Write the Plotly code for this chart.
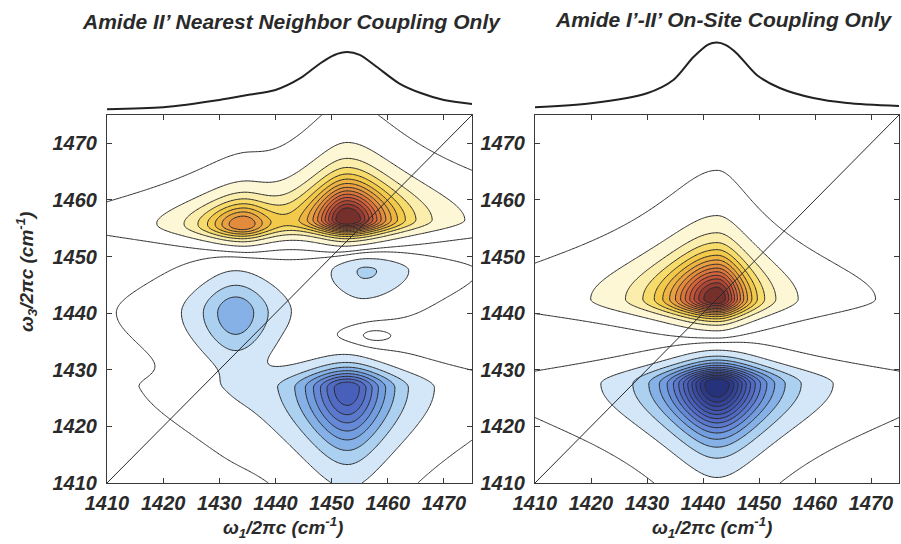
import numpy as np
import plotly.graph_objects as go

# ---------------- data ----------------
ticks = [1410, 1420, 1430, 1440, 1450, 1460, 1470]
axis_range = [1410, 1475]
diag = [1410, 1475]

# 1D absorption spectra shown above each 2D panel
left_sp_w1 = [1410, 1420, 1430, 1435, 1440, 1444.5, 1448, 1450.5, 1452.8, 1455, 1458, 1462, 1466, 1470, 1475]
left_sp = [0.03, 0.063, 0.186, 0.27, 0.356, 0.56, 0.81, 0.95, 1.0, 0.95, 0.75, 0.47, 0.30, 0.186, 0.12]
right_sp_w1 = [1410, 1420, 1430, 1434.7, 1438.3, 1441, 1442.5, 1444, 1446, 1449.6, 1453.7, 1459.7, 1465.7, 1475]
right_sp = [0.063, 0.13, 0.30, 0.525, 0.915, 1.13, 1.16, 1.12, 0.98, 0.61, 0.39, 0.22, 0.136, 0.085]

# 2D peaks (amplitude, centres, half-widths below/above centre)
L_amp = [1.00, 0.52, -0.62, -0.265, -0.152, 0.045]
L_w1 = [1452.8, 1434.0, 1452.8, 1432.9, 1456.0, 1457.0]
L_w3 = [1456.5, 1455.5, 1426.8, 1440.0, 1447.6, 1436.0]
L_g1lo = [6.5, 7.3, 8.0, 7.2, 6.6, 6.0]
L_g1hi = [7.9, 6.0, 7.4, 7.2, 8.6, 6.0]
L_g3lo = [3.6, 3.6, 15.0, 12.0, 7.6, 3.5]
L_g3hi = [9.9, 6.3, 4.9, 9.0, 4.0, 3.5]

R_amp = [1.00, -1.00]
R_w1 = [1442.5, 1442.5]
R_w3 = [1442.5, 1427.5]
R_g1lo = [8.7, 8.0]
R_g1hi = [5.6, 8.0]
R_g3lo = [4.36, 12.0]
R_g3hi = [10.7, 4.6]

P_W1 = 1.3   # line-shape exponent along omega_1
P_W3 = 2.5   # line-shape exponent along omega_3

# contour levels
fill_step = 0.07
fill_top = 0.91
faint_level = 0.014

pos_colors = ["#fdf7d6", "#fbeeac", "#f7dc6c", "#f3c94a", "#eeb441", "#e9a040",
              "#e38b3d", "#dc773c", "#d2653b", "#c45539", "#ad4736", "#933b32", "#76302c"]
neg_colors = ["#d3e7f8", "#acd0f0", "#86b1e6", "#729ddf", "#6589d6", "#5a79cd",
              "#516bc4", "#4860ba", "#4156ae", "#3a4ca2", "#344396", "#2d3a8a", "#27327d"]

# ---------------- build fields ----------------
grid = np.arange(axis_range[0], axis_range[1] + 0.001, 0.25)
W1, W3 = np.meshgrid(grid, grid)


def shape(d, glo, ghi, p):
    g = np.where(d < 0, glo, ghi)
    return (1.0 + (d / g) ** 2) ** (-p)


def field(amp, c1, c3, g1lo, g1hi, g3lo, g3hi):
    z = np.zeros_like(W1)
    for k in range(len(amp)):
        z += amp[k] * shape(W1 - c1[k], g1lo[k], g1hi[k], P_W1) * shape(W3 - c3[k], g3lo[k], g3hi[k], P_W3)
    return z


ZL = field(L_amp, L_w1, L_w3, L_g1lo, L_g1hi, L_g3lo, L_g3hi)
ZR = field(R_amp, R_w1, R_w3, R_g1lo, R_g1hi, R_g3lo, R_g3hi)

n = len(pos_colors)
CLEAR = "rgba(255,255,255,0)"
pos_scale = [[0.0, CLEAR]] + [[(k + 1) / n, pos_colors[k]] for k in range(n)]
neg_scale = [[0.0, CLEAR]] + [[(k + 1) / n, neg_colors[k]] for k in range(n)]

LINE = "#2a2a2a"

fig = go.Figure()


def add_panel(z, xa, ya):
    # negative part drawn as depth below zero (so the empty band stays transparent)
    for zz, scale in ((-z, neg_scale), (z, pos_scale)):
        fig.add_trace(go.Contour(
            x=grid, y=grid, z=zz, xaxis=xa, yaxis=ya, autocontour=False,
            contours=dict(start=fill_step, end=fill_top, size=fill_step, coloring="fill", showlines=True),
            colorscale=scale, line=dict(color=LINE, width=1), showscale=False, hoverinfo="skip"))
    fig.add_trace(go.Contour(
        x=grid, y=grid, z=z, xaxis=xa, yaxis=ya, autocontour=False,
        contours=dict(start=-faint_level, end=faint_level, size=2 * faint_level, coloring="none"),
        line=dict(color=LINE, width=1), showscale=False, hoverinfo="skip"))
    fig.add_trace(go.Scatter(x=diag, y=diag, xaxis=xa, yaxis=ya, mode="lines",
                             line=dict(color=LINE, width=1), hoverinfo="skip", showlegend=False))


add_panel(ZL, "x", "y")
add_panel(ZR, "x2", "y2")

fig.add_trace(go.Scatter(x=left_sp_w1, y=left_sp, xaxis="x3", yaxis="y3", mode="lines",
                         line=dict(color="#222222", width=2, shape="spline", smoothing=0.8),
                         hoverinfo="skip", showlegend=False))
fig.add_trace(go.Scatter(x=right_sp_w1, y=right_sp, xaxis="x4", yaxis="y4", mode="lines",
                         line=dict(color="#222222", width=2, shape="spline", smoothing=0.8),
                         hoverinfo="skip", showlegend=False))

# ---------------- layout ----------------
FW, FH = 901, 544


def fx(px):
    return px / FW


def fy(py):
    return 1 - py / FH


tickfont = dict(family="Liberation Sans", size=20, weight="bold", style="italic", color="#2a2a2a")
main_y = [fy(483), fy(115)]


def xax(dom, anchor):
    return dict(domain=dom, range=axis_range, tickvals=ticks, ticks="inside", ticklen=5,
                tickcolor="#3a3a3a", showline=True, mirror="ticks", linecolor="#3a3a3a", linewidth=1,
                showgrid=False, zeroline=False, tickfont=tickfont, anchor=anchor,
                automargin=False, ticklabelstandoff=2)


def yax(anchor):
    return dict(domain=main_y, range=axis_range, tickvals=ticks, ticks="inside", ticklen=5,
                tickcolor="#3a3a3a", showline=True, mirror="ticks", linecolor="#3a3a3a", linewidth=1,
                showgrid=False, zeroline=False, tickfont=tickfont, anchor=anchor,
                automargin=False, ticklabelstandoff=5)


sp_y = [fy(113), fy(40)]
sp_range = [-0.0339, 1.2034]
hidden = dict(visible=False, showgrid=False, zeroline=False, automargin=False)

fig.update_layout(
    width=FW, height=FH, margin=dict(l=0, r=0, t=0, b=0, autoexpand=False),
    paper_bgcolor="white", plot_bgcolor="white", showlegend=False,
    xaxis=xax([fx(107), fx(472)], "y"),
    yaxis=yax("x"),
    xaxis2=xax([fx(535), fx(899)], "y2"),
    yaxis2=yax("x2"),
    xaxis3=dict(domain=[fx(107), fx(472)], range=axis_range, anchor="y3", **hidden),
    yaxis3=dict(domain=sp_y, range=sp_range, anchor="x3", **hidden),
    xaxis4=dict(domain=[fx(535), fx(899)], range=axis_range, anchor="y4", **hidden),
    yaxis4=dict(domain=sp_y, range=sp_range, anchor="x4", **hidden),
)

titlefont = dict(family="Liberation Sans", size=21, weight="bold", style="italic", color="#2a2a2a")
labfont = dict(family="Liberation Sans", size=19, weight="bold", style="italic", color="#2a2a2a")
ann = [
    dict(text="Amide II’ Nearest Neighbor Coupling Only", x=fx(291), y=fy(22), font=titlefont),
    dict(text="Amide I’-II’ On-Site Coupling Only", x=fx(724), y=fy(20), font=titlefont),
    dict(text="ω<sub>1</sub>/2πc (cm<sup>-1</sup>)", x=fx(283), y=fy(527), font=labfont),
    dict(text="ω<sub>1</sub>/2πc (cm<sup>-1</sup>)", x=fx(712), y=fy(527), font=labfont),
    dict(text="ω<sub>3</sub>/2πc (cm<sup>-1</sup>)", x=fx(26), y=fy(272), font=labfont, textangle=-90),
]
for a in ann:
    fig.add_annotation(xref="paper", yref="paper", showarrow=False, xanchor="center", yanchor="middle", **a)

fig.write_html("out.html")
